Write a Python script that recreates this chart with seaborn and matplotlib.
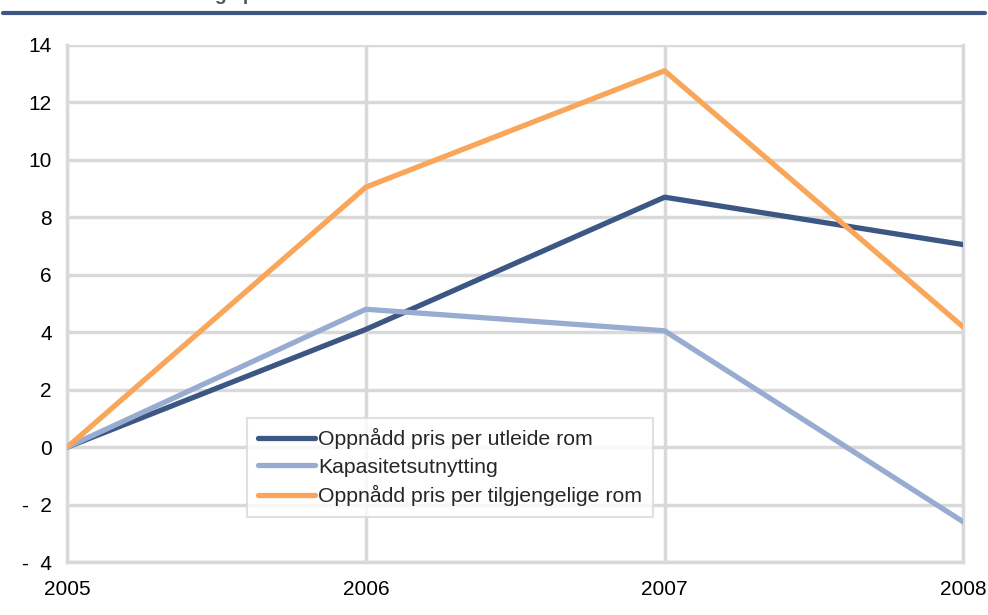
import matplotlib
matplotlib.use("Agg")
import matplotlib.pyplot as plt
import matplotlib.ticker as ticker
import pandas as pd
import seaborn as sns

years = [2005, 2006, 2007, 2008]
pris_utleide = [0, 4.1, 8.7, 7.05]
kapasitet = [0, 4.8, 4.05, -2.6]
pris_tilgjengelige = [0, 9.05, 13.1, 4.18]
series_names = ["Oppnådd pris per utleide rom", "Kapasitetsutnytting",
                "Oppnådd pris per tilgjengelige rom"]
colors = ["#3d5785", "#98acd2", "#f9a65a"]

df = pd.DataFrame({
    "year": years * 3,
    "value": pris_utleide + kapasitet + pris_tilgjengelige,
    "serie": [s for s in series_names for _ in years],
})

sns.set_style("white")
plt.rcParams["font.family"] = ["Liberation Sans", "DejaVu Sans"]

fig = plt.figure(figsize=(9.88, 6.15), dpi=100)
ax = fig.add_axes([0.068, 0.086, 0.907, 0.841])

sns.lineplot(data=df, x="year", y="value", hue="serie", palette=colors,
             hue_order=series_names, linewidth=3.8, ax=ax, zorder=3)

ax.set_xlim(2005, 2008)
ax.set_ylim(-4, 14)
ax.set_xticks(years)
ax.yaxis.set_major_locator(ticker.MultipleLocator(2))


def fmt(v, pos):
    v = int(round(v))
    return "-  %d" % abs(v) if v < 0 else "%d" % v


ax.yaxis.set_major_formatter(ticker.FuncFormatter(fmt))
ax.grid(True, color="#d9d9d9", linewidth=2.5, zorder=0)
for sp in ax.spines.values():
    sp.set_color("#d9d9d9")
    sp.set_linewidth(2.5)
ax.spines["top"].set_visible(False)
ax.tick_params(length=0, labelsize=15, colors="black")
ax.tick_params(axis="y", pad=11)
ax.tick_params(axis="x", pad=13)
ax.set_xlabel("")
ax.set_ylabel("")

leg = ax.legend(loc="lower left", bbox_to_anchor=(0.201, 0.087), fontsize=15.3,
                frameon=True, fancybox=False, handlelength=2.7,
                handletextpad=0.15, borderpad=0.5, labelspacing=0.4,
                borderaxespad=0)
leg.get_frame().set_edgecolor("#d9d9d9")
leg.get_frame().set_linewidth(1.5)

# header rule and cut-off title at the top
fig.add_artist(plt.Line2D([0.003, 0.997], [0.979, 0.979], color="#3d5785",
                          linewidth=3, transform=fig.transFigure))
fig.text(0.155, 1.008, "Endring i prosent", fontsize=14, fontweight="bold",
         color="#555555", va="center")

fig.savefig("out.png", dpi=100)
